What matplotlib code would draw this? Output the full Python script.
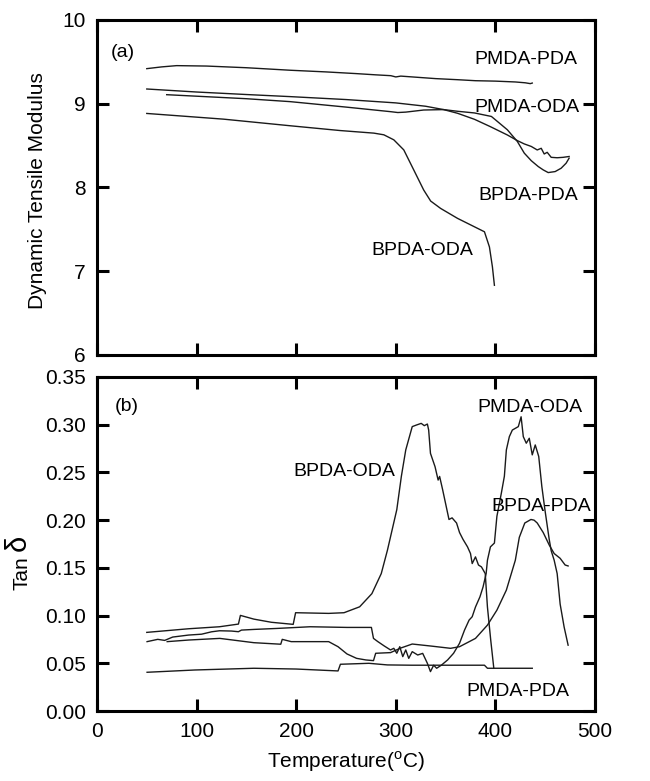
import matplotlib
matplotlib.use("Agg")
import matplotlib.pyplot as plt

plt.rcParams['font.family'] = ['Liberation Sans', 'DejaVu Sans']
plt.rcParams['mathtext.fontset'] = 'custom'
plt.rcParams['mathtext.rm'] = 'Liberation Sans'

# (a) dynamic tensile modulus
pmda_pda_x = [50, 65, 80, 110, 150, 194, 230, 260, 280, 295, 300, 305, 340, 362, 380, 400, 420, 430, 435, 437]
pmda_pda_y = [9.419, 9.44, 9.455, 9.45, 9.43, 9.40, 9.38, 9.36, 9.345, 9.335, 9.32, 9.33, 9.30, 9.287, 9.275,
              9.27, 9.26, 9.25, 9.24, 9.247]

pmda_oda_x = [50, 100, 150, 194, 250, 300, 330, 348, 362, 379, 396, 412, 422, 429, 436, 443, 448, 453, 460,
              466, 471, 474]
pmda_oda_y = [9.176, 9.14, 9.11, 9.085, 9.05, 9.01, 8.97, 8.93, 8.91, 8.89, 8.848, 8.689, 8.55, 8.41, 8.32,
              8.25, 8.21, 8.178, 8.19, 8.23, 8.29, 8.35]

bpda_pda_x = [70, 100, 150, 194, 250, 295, 302, 310, 328, 348, 362, 379, 395, 412, 422, 429, 436, 442, 446,
              449, 452, 456, 462, 468, 474]
bpda_pda_y = [9.108, 9.09, 9.06, 9.025, 8.96, 8.905, 8.895, 8.90, 8.925, 8.93, 8.886, 8.814, 8.726, 8.627,
              8.56, 8.52, 8.49, 8.448, 8.468, 8.40, 8.42, 8.36, 8.355, 8.36, 8.37]

bpda_oda_x = [50, 127, 194, 244, 278, 288, 298, 308, 318, 328, 335, 345, 362, 389, 394, 397, 399]
bpda_oda_y = [8.884, 8.816, 8.737, 8.68, 8.649, 8.629, 8.569, 8.449, 8.21, 7.97, 7.838, 7.75, 7.631, 7.471,
              7.29, 7.052, 6.832]

# (b) tan delta
tan_bpda_oda_x = [50, 92, 123, 142, 144, 157.5, 175, 197, 199.4, 232.6, 248, 263.7, 276, 285.4, 291.6, 301,
                  305.6, 310, 316.5, 320.8, 325.5, 328.6, 331.7, 333, 334.8, 339.4, 342.5, 344, 347, 353.4,
                  356.5, 361, 364, 367.4, 372, 375, 376.7, 380, 383, 386, 389.8, 392, 395.3, 398.4]
tan_bpda_oda_y = [0.0824, 0.0862, 0.0883, 0.0911, 0.1002, 0.0963, 0.093, 0.0908, 0.103, 0.1023, 0.103,
                  0.1092, 0.123, 0.144, 0.1685, 0.211, 0.246, 0.2736, 0.298, 0.2997, 0.3014, 0.299, 0.3007,
                  0.2944, 0.270, 0.256, 0.242, 0.2458, 0.232, 0.2007, 0.2024, 0.197, 0.187, 0.180, 0.172,
                  0.165, 0.1545, 0.1615, 0.153, 0.151, 0.144, 0.109, 0.0744, 0.0448]

tan_pmda_oda_x = [50.3, 61, 68, 76, 92, 105, 115, 123, 135, 142, 145, 157.5, 180, 214, 251, 275.5, 277.6,
                  282, 288.5, 294.7, 298, 301, 304, 307, 310, 313, 316.5, 322, 327, 331.7, 334.8, 338, 341,
                  345.7, 352, 358, 364, 369, 373.6, 376.7, 380, 384.5, 387.6, 390.7, 392, 395, 399, 401.5,
                  406, 409, 411, 414, 417, 423, 425.8, 428, 431, 434, 437, 440, 443.5, 446.6, 449.7, 454,
                  456, 459, 462, 465, 469, 473]
tan_pmda_oda_y = [0.0727, 0.0751, 0.074, 0.0775, 0.0796, 0.0805, 0.083, 0.0841, 0.0838, 0.0831, 0.0848,
                  0.0855, 0.0865, 0.0883, 0.0876, 0.0876, 0.0761, 0.0727, 0.0681, 0.064, 0.0657, 0.0605,
                  0.0674, 0.057, 0.064, 0.0552, 0.0622, 0.0587, 0.0604, 0.05, 0.0413, 0.048, 0.0448, 0.048,
                  0.0535, 0.0605, 0.071, 0.0848, 0.0953, 0.0988, 0.109, 0.1197, 0.130, 0.144, 0.158, 0.172,
                  0.176, 0.204, 0.2285, 0.246, 0.2736, 0.2875, 0.2944, 0.298, 0.3083, 0.2875, 0.2806,
                  0.2858, 0.2684, 0.2788, 0.2667, 0.2354, 0.211, 0.18, 0.168, 0.158, 0.144, 0.112, 0.088,
                  0.069]

tan_bpda_pda_x = [70.5, 92.2, 123.3, 157.5, 184.5, 186, 195, 232.6, 242, 251, 260.6, 270, 277.6, 279.8,
                  294.7, 305, 316.5, 336, 355, 364, 380, 392, 401.5, 411, 420, 424, 429.5, 435.7, 438.8,
                  442, 448, 454, 459, 465, 470, 473]
tan_bpda_pda_y = [0.0727, 0.0744, 0.0761, 0.0716, 0.070, 0.0751, 0.0727, 0.0727, 0.0674, 0.0598, 0.0552,
                  0.0535, 0.0528, 0.0605, 0.0612, 0.066, 0.0702, 0.068, 0.0657, 0.0674, 0.0761, 0.090,
                  0.1057, 0.1267, 0.158, 0.182, 0.197, 0.2007, 0.200, 0.197, 0.187, 0.174, 0.165, 0.16,
                  0.153, 0.152]

tan_pmda_pda_x = [50.3, 98.4, 157.5, 200, 242, 244.4, 273, 291.6, 316, 340, 360, 389, 392, 437]
tan_pmda_pda_y = [0.0406, 0.043, 0.0448, 0.044, 0.042, 0.049, 0.050, 0.0483, 0.048, 0.048, 0.048, 0.048,
                  0.0448, 0.0448]

xticks = [0, 100, 200, 300, 400, 500]
mod_ticks = [6, 7, 8, 9, 10]
tan_ticks = [0.00, 0.05, 0.10, 0.15, 0.20, 0.25, 0.30, 0.35]

line_kw = dict(color='#1a1a1a', lw=1.0)
fig = plt.figure(figsize=(6.5, 7.81), dpi=100)
ax1 = fig.add_axes([0.1492, 0.5455, 0.7662, 0.4289])
ax2 = fig.add_axes([0.1492, 0.0896, 0.7662, 0.4277])

for ax in (ax1, ax2):
    ax.set_xlim(0, 500)
    ax.set_xticks(xticks)
    ax.tick_params(direction='in', top=True, right=True, length=8.5, width=2.2,
                   labelsize=15, pad=8)
    for s in ax.spines.values():
        s.set_linewidth(2.2)

# panel a
ax1.plot(pmda_pda_x, pmda_pda_y, **line_kw)
ax1.plot(pmda_oda_x, pmda_oda_y, **line_kw)
ax1.plot(bpda_pda_x, bpda_pda_y, **line_kw)
ax1.plot(bpda_oda_x, bpda_oda_y, **line_kw)
ax1.set_ylim(6, 10)
ax1.set_yticks(mod_ticks)
ax1.set_yticklabels([str(t) for t in mod_ticks])
ax1.tick_params(labelbottom=False)
ax1.set_ylabel('Dynamic Tensile Modulus', fontsize=15)
ax1.yaxis.set_label_coords(-0.1, 0.49)

txt = dict(fontsize=14, ha='center', va='center')
ax1.text(14, 9.607, '(a)', fontsize=14, ha='left', va='center')
ax1.text(431, 9.53, 'PMDA-PDA', **txt)
ax1.text(432, 8.95, 'PMDA-ODA', **txt)
ax1.text(433, 7.91, 'BPDA-PDA', **txt)
ax1.text(327, 7.245, 'BPDA-ODA', **txt)

# panel b
ax2.plot(tan_bpda_oda_x, tan_bpda_oda_y, **line_kw)
ax2.plot(tan_pmda_oda_x, tan_pmda_oda_y, **line_kw)
ax2.plot(tan_bpda_pda_x, tan_bpda_pda_y, **line_kw)
ax2.plot(tan_pmda_pda_x, tan_pmda_pda_y, **line_kw)
ax2.set_ylim(0, 0.35)
ax2.set_yticks(tan_ticks)
ax2.set_yticklabels(['%.2f' % t for t in tan_ticks])
ax2.tick_params(axis='x', pad=8)
# "Tan" as the axis label, the larger delta set just above it
ax2.set_ylabel('Tan', fontsize=15)
ax2.yaxis.set_label_coords(-0.131, 0.413)
ax2.text(-0.131, 0.503, 'δ', fontsize=21, rotation=90, ha='right', va='center',
         transform=ax2.transAxes)
ax2.set_xlabel(r'Temperature($^{\rm o}$C)', fontsize=15, va='center')
ax2.xaxis.set_label_coords(0.5, -0.153)

ax2.text(18, 0.319, '(b)', fontsize=14, ha='left', va='center')
ax2.text(435, 0.318, 'PMDA-ODA', **txt)
ax2.text(248, 0.251, 'BPDA-ODA', **txt)
ax2.text(446, 0.2146, 'BPDA-PDA', **txt)
ax2.text(423, 0.02, 'PMDA-PDA', **txt)

fig.savefig('out.png', dpi=100)
